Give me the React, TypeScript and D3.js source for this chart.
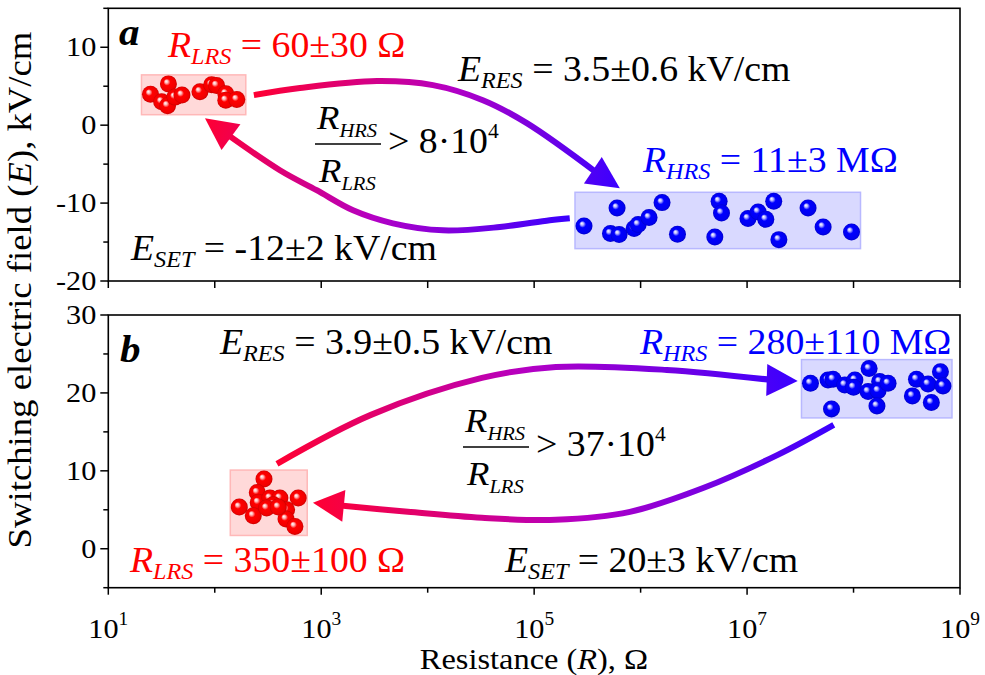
import React from "react";
import * as d3 from "d3";

// ---- data (R in Ohm, E in kV/cm) ----
const lrsA_R = [24.9, 31.7, 36.7, 36, 42.3, 49.2, 72.6, 93.5, 104, 127, 127, 161];
const lrsA_E = [3.98, 3.0, 5.3, 2.5, 3.6, 3.86, 4.3, 5.2, 5.1, 4.03, 3.2, 3.3];

const hrsA_R = [2.94e5, 6.01e5, 5.21e5, 6.28e5, 8.69e5, 9.48e5, 1.2e6, 1.59e6, 2.22e6, 4.98e6,
  5.46e6, 5.75e6, 1.02e7, 1.27e7, 1.5e7, 1.78e7, 1.99e7, 3.74e7, 5.18e7, 9.57e7];
const hrsA_E = [-12.94, -10.62, -13.91, -14.04, -13.27, -12.76, -11.86, -9.94, -14.01, -14.36,
  -9.77, -11.27, -11.99, -11.14, -12.08, -9.77, -14.69, -10.62, -13.06, -13.71];

const lrsB_R = [290, 251, 170, 256, 230, 330, 409, 354, 608, 473, 467, 566, 307, 395];
const lrsB_E = [8.94, 7.22, 5.35, 5.94, 4.23, 6.5, 6.5, 5.64, 6.5, 5.0, 3.81, 2.86, 5.22, 5.35];

const hrsB_R = [3.94e7, 5.76e7, 6.42e7, 8.27e7, 1.03e8, 1.0e8, 1.4e8, 6.21e7, 1.37e8, 1.76e8,
  1.7e8, 2.11e8, 1.66e8, 3.9e8, 3.57e8, 5.01e8, 6.55e8, 6.92e8, 5.38e8];
const hrsB_E = [21.24, 21.67, 21.76, 21.03, 21.67, 20.73, 23.12, 17.95, 20.17, 21.45,
  20.29, 21.24, 18.33, 21.76, 19.62, 21.15, 22.73, 20.9, 18.76];

// switching arrows, last point is the arrow tip
const resA_R = [233, 631, 3.33e3, 1.12e4, 3.3e4, 8.53e4, 3.56e5, 6.38e5];
const resA_E = [3.86, 4.76, 5.66, 5.14, 3.21, 0.26, -5.78, -8.1];
const setA_R = [2.16e5, 1.4e5, 4.76e4, 1.39e4, 4.71e3, 1.99e3, 906, 409, 142, 80.9];
const setA_E = [-11.95, -12.21, -13.07, -13.5, -12.6, -10.93, -8.35, -5.78, -1.54, 0.9];
const resB_R = [384, 2.93e3, 3.23e4, 1.6e5, 1.76e6, 1.53e7, 2.99e7];
const resB_E = [10.9, 17.18, 21.92, 23.33, 22.95, 21.67, 21.54];
const setB_R = [6.52e7, 1.94e7, 3.92e6, 7.93e5, 1.6e5, 3.23e4, 6.52e3, 1.63e3, 836];
const setB_E = [15.9, 12.05, 7.82, 4.74, 3.72, 3.97, 4.74, 5.51, 5.9];

const xMajor = [1e1, 1e3, 1e5, 1e7, 1e9];
const xMinor = [1e2, 1e4, 1e6, 1e8];
const yMajorA = [-20, -10, 0, 10];
const yMinorA = [-15, -5, 5, 15];
const yMajorB = [0, 10, 20, 30];
const yMinorB = [-5, 5, 15, 25];

const FONT = "Liberation Serif";
const SX = 1.08;
const RED = "#ff0000";
const BLUE = "#0000ff";

const X0 = 108.3, X1 = 960;
const x = d3.scaleLog().domain([10, 1e9]).range([X0, X1]);
const yA = d3.scaleLinear().domain([-20, 15]).range([281, 8.3]);
const yB = d3.scaleLinear().domain([-5, 30]).range([587.7, 315]);

const Sub = ({ x, y, main, sub, rest, fill = "#000", size = 35, subScale = 0.64, subDy = 7 }) => (
  <text transform={`translate(${x},${y}) scale(${SX},1)`} style={{ fontFamily: FONT }} fontSize={size} fill={fill}>
    <tspan fontStyle="italic">{main}</tspan>
    <tspan fontStyle="italic" fontSize={size * subScale} dy={subDy}>{sub}</tspan>
    <tspan dy={-subDy}>{rest}</tspan>
  </text>
);

const Fraction = ({ x, y, value }) => (
  <g>
    <Sub x={x + 2} y={y} main="R" sub="HRS" rest="" size={34} subScale={0.56} subDy={8} />
    <line x1={x} x2={x + 66} y1={y + 15} y2={y + 15} stroke="#000" strokeWidth={1.3} />
    <Sub x={x + 4} y={y + 53} main="R" sub="LRS" rest="" size={34} subScale={0.56} subDy={8} />
    <text transform={`translate(${x + 73},${y + 24}) scale(${SX},1)`} style={{ fontFamily: FONT }} fontSize={35}>
      {"> " + value + "\u00b710"}
      <tspan fontSize={20} dy={-15}>4</tspan>
    </text>
  </g>
);

const Balls = ({ R, E, y, grad }) => {
  const px = R.map((r) => x(r));
  const py = E.map((e) => y(e));
  const pad = 9;
  const x0 = d3.min(px) - pad, x1 = d3.max(px) + pad;
  const y0 = d3.min(py) - pad, y1 = d3.max(py) + pad;
  const red = grad === "ballRed";
  return (
    <g>
      <rect x={x0} y={y0} width={x1 - x0} height={y1 - y0}
        fill={red ? "#ffd9d9" : "#d9d9ff"} stroke={red ? "#ffb8b8" : "#b8b8ff"} strokeWidth={1.5} />
      {px.map((p, i) => (
        <circle key={i} cx={p} cy={py[i]} r={8.5} fill={`url(#${grad})`} />
      ))}
    </g>
  );
};

const Arrow = ({ id, R, E, y, fromRed }) => {
  const pts = R.map((r, i) => [x(r), y(E[i])]);
  const tip = pts[pts.length - 1];
  const base = pts[pts.length - 2];
  const shaft = pts.slice(0, -1);
  const line = d3.line().curve(d3.curveCatmullRom.alpha(0.5));
  const dx = tip[0] - base[0], dy = tip[1] - base[1];
  const len = Math.hypot(dx, dy);
  const ux = dx / len, uy = dy / len;
  const hw = 16;
  // pull shaft end slightly inside the head
  shaft[shaft.length - 1] = [base[0] + ux * 6, base[1] + uy * 6];
  const head = [
    tip,
    [base[0] - uy * hw, base[1] + ux * hw],
    [base[0] + uy * hw, base[1] - ux * hw],
  ];
  const start = pts[0];
  const c0 = fromRed ? "#ff0033" : "#3a00ff";
  const c1 = fromRed ? "#3a00ff" : "#ff0033";
  return (
    <g>
      <defs>
        <linearGradient id={id} gradientUnits="userSpaceOnUse" x1={start[0]} y1={start[1]} x2={tip[0]} y2={tip[1]}>
          <stop offset="0" stopColor={c0} />
          <stop offset="0.5" stopColor="#b400c4" />
          <stop offset="1" stopColor={c1} />
        </linearGradient>
      </defs>
      <path d={line(shaft)} fill="none" stroke={`url(#${id})`} strokeWidth={6} />
      <path d={`M${head.map((p) => p.join(",")).join("L")}Z`} fill={`url(#${id})`} />
    </g>
  );
};

const Panel = ({ y, yMajor, yMinor, top, bottom, showX }) => (
  <g>
    <rect x={X0} y={top} width={X1 - X0} height={bottom - top} fill="none" stroke="#000" strokeWidth={1.6} />
    {yMajor.map((v) => (
      <g key={"M" + v}>
        <line x1={X0 - 8} x2={X0} y1={y(v)} y2={y(v)} stroke="#000" strokeWidth={1.5} />
        <text transform={`translate(${X0 - 12},${y(v) + 9}) scale(${SX},1)`} textAnchor="end"
          style={{ fontFamily: FONT }} fontSize={28}>{v}</text>
      </g>
    ))}
    {yMinor.map((v) => (
      <line key={"m" + v} x1={X0 - 5} x2={X0} y1={y(v)} y2={y(v)} stroke="#000" strokeWidth={1.5} />
    ))}
    {xMajor.map((v) => (
      <line key={"xM" + v} x1={x(v)} x2={x(v)} y1={bottom} y2={bottom + 7} stroke="#000" strokeWidth={1.5} />
    ))}
    {xMinor.map((v) => (
      <line key={"xm" + v} x1={x(v)} x2={x(v)} y1={bottom} y2={bottom + (showX ? 5 : 7)} stroke="#000" strokeWidth={1.5} />
    ))}
    {showX && xMajor.map((v) => (
      <text key={"xl" + v} transform={`translate(${x(v)},${bottom + 50}) scale(${SX},1)`} textAnchor="middle"
        style={{ fontFamily: FONT }} fontSize={28}>
        10<tspan fontSize={18} dy={-13}>{Math.round(Math.log10(v))}</tspan>
      </text>
    ))}
  </g>
);

export default function App() {
  return (
    <svg width={985} height={675} style={{ position: "absolute", left: 0, top: 0, background: "#fff" }}>
      <defs>
        <radialGradient id="ballRed" cx="0.5" cy="0.5" r="0.5" fx="0.36" fy="0.34">
          <stop offset="0" stopColor="#ffffff" />
          <stop offset="0.18" stopColor="#ffb8b8" />
          <stop offset="0.4" stopColor="#ff0000" />
          <stop offset="0.85" stopColor="#f00000" />
          <stop offset="1" stopColor="#c80000" />
        </radialGradient>
        <radialGradient id="ballBlue" cx="0.5" cy="0.5" r="0.5" fx="0.36" fy="0.34">
          <stop offset="0" stopColor="#ffffff" />
          <stop offset="0.18" stopColor="#b8b8ff" />
          <stop offset="0.4" stopColor="#0000ff" />
          <stop offset="0.85" stopColor="#0000f0" />
          <stop offset="1" stopColor="#0000c8" />
        </radialGradient>
      </defs>

      <Panel y={yA} yMajor={yMajorA} yMinor={yMinorA} top={8.3} bottom={281} showX={false} />
      <Panel y={yB} yMajor={yMajorB} yMinor={yMinorB} top={315} bottom={587.7} showX={true} />

      {/* panel a */}
      <Balls R={lrsA_R} E={lrsA_E} y={yA} grad="ballRed" />
      <Balls R={hrsA_R} E={hrsA_E} y={yA} grad="ballBlue" />
      <Arrow id="gResA" R={resA_R} E={resA_E} y={yA} fromRed={true} />
      <Arrow id="gSetA" R={setA_R} E={setA_E} y={yA} fromRed={false} />
      <text transform={`translate(119,45) scale(${SX},1)`} style={{ fontFamily: FONT }} fontSize={38}
        fontWeight="bold" fontStyle="italic">a</text>
      <Sub x={168} y={57} main="R" sub="LRS" rest={" = 60\u00b130 \u03a9"} fill={RED} />
      <Sub x={458} y={81} main="E" sub="RES" rest=" = 3.5±0.6 kV/cm" />
      <Fraction x={315} y={129} value="8" />
      <Sub x={643} y={172} main="R" sub="HRS" rest={" = 11\u00b13 M\u03a9"} fill={BLUE} />
      <Sub x={131} y={260} main="E" sub="SET" rest=" = -12±2 kV/cm" />

      {/* panel b */}
      <Balls R={lrsB_R} E={lrsB_E} y={yB} grad="ballRed" />
      <Balls R={hrsB_R} E={hrsB_E} y={yB} grad="ballBlue" />
      <Arrow id="gResB" R={resB_R} E={resB_E} y={yB} fromRed={true} />
      <Arrow id="gSetB" R={setB_R} E={setB_E} y={yB} fromRed={false} />
      <text transform={`translate(120,362) scale(${SX},1)`} style={{ fontFamily: FONT }} fontSize={38}
        fontWeight="bold" fontStyle="italic">b</text>
      <Sub x={220} y={354} main="E" sub="RES" rest=" = 3.9±0.5 kV/cm" />
      <Sub x={640} y={354} main="R" sub="HRS" rest={" = 280\u00b1110 M\u03a9"} fill={BLUE} />
      <Fraction x={463} y={432} value="37" />
      <Sub x={130} y={572} main="R" sub="LRS" rest={" = 350\u00b1100 \u03a9"} fill={RED} />
      <Sub x={505} y={572} main="E" sub="SET" rest=" = 20±3 kV/cm" />

      {/* axis titles */}
      <text transform={`translate(534,669) scale(${SX},1)`} textAnchor="middle" style={{ fontFamily: FONT }} fontSize={30}>
        Resistance (<tspan fontStyle="italic">R</tspan>), Ω
      </text>
      <text transform={`translate(31,290) rotate(-90) scale(${SX},1)`} textAnchor="middle" style={{ fontFamily: FONT }} fontSize={34}>
        Switching electric field (<tspan fontStyle="italic">E</tspan>), kV/cm
      </text>
    </svg>
  );
}
